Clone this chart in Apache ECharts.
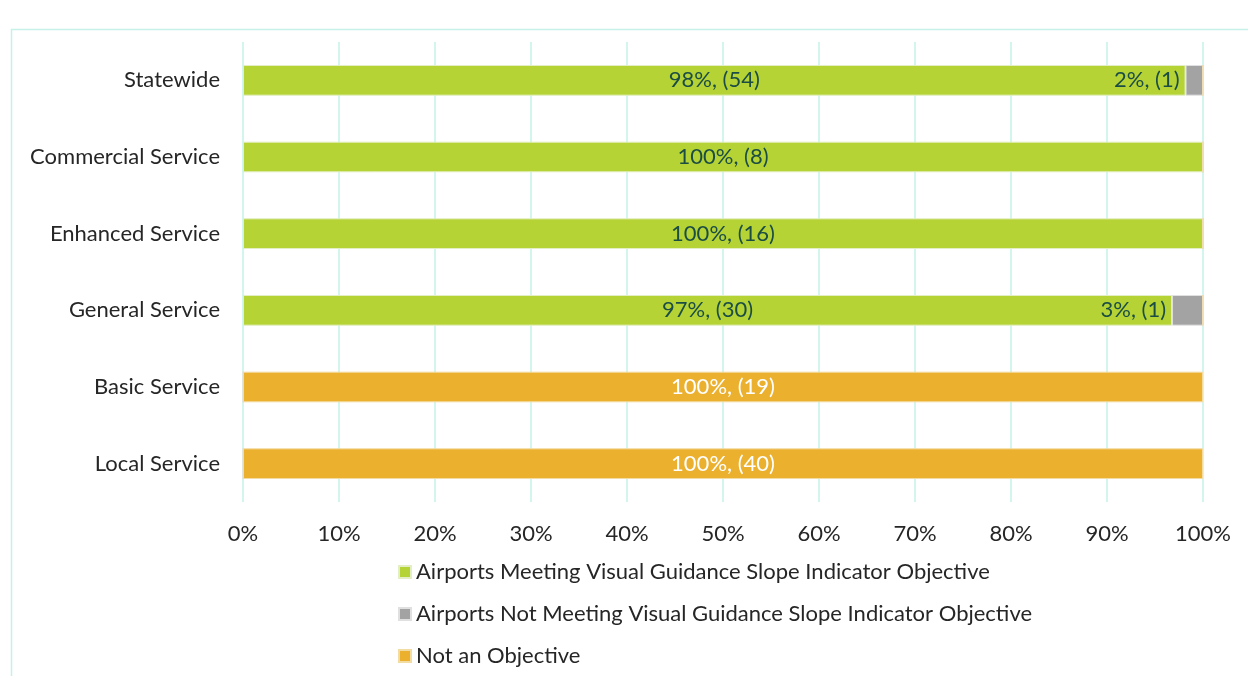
<!DOCTYPE html>
<html>
<head>
<meta charset="utf-8">
<script src="https://cdn.jsdelivr.net/npm/echarts@6/dist/echarts.min.js"></script>
<style>
  html, body { margin: 0; padding: 0; background: #fff; }
  #chart { width: 1248px; height: 676px; }
</style>
</head>
<body>
<div id="chart"></div>
<script>
  // airport roles, top to bottom
  var categories = ['Statewide', 'Commercial Service', 'Enhanced Service', 'General Service', 'Basic Service', 'Local Service'];
  // airport counts per role
  var meeting = [54, 8, 16, 30, 0, 0];
  var notMeeting = [1, 0, 0, 1, 0, 0];
  var notObjective = [0, 0, 0, 0, 19, 40];
  var xTicks = ['0%', '10%', '20%', '30%', '40%', '50%', '60%', '70%', '80%', '90%', '100%'];

  var seriesNames = [
    'Airports Meeting Visual Guidance Slope Indicator Objective',
    'Airports Not Meeting Visual Guidance Slope Indicator Objective',
    'Not an Objective'
  ];

  var totals = categories.map(function (c, i) {
    return meeting[i] + notMeeting[i] + notObjective[i];
  });
  function share(arr) {
    return arr.map(function (v, i) { return v / totals[i] * 100; });
  }
  function labelFor(counts) {
    return function (p) {
      var n = counts[p.dataIndex];
      if (!n) return '';
      return Math.round(p.value) + '%, (' + n + ')';
    };
  }

  var font = 'Lato, "Open Sans", sans-serif';
  var chart = echarts.init(document.getElementById('chart'));
  chart.setOption({
    animation: false,
    textStyle: { fontFamily: font },
    graphic: [{
      type: 'rect',
      shape: { x: 11.5, y: 29.5, width: 1400, height: 800 },
      style: { fill: 'none', stroke: '#c6f1e9', lineWidth: 1.5 },
      silent: true
    }],
    grid: { left: 243, right: 45, top: 42, bottom: 174 },
    legend: {
      orient: 'vertical',
      left: 393,
      top: 556,
      itemWidth: 12,
      itemHeight: 12,
      itemGap: 20,
      icon: 'rect',
      textStyle: { fontFamily: font, fontSize: 22, color: '#262626' },
      data: seriesNames
    },
    xAxis: {
      type: 'value',
      min: 0,
      max: 100,
      interval: 10,
      axisLine: { show: false },
      axisTick: { show: false },
      splitLine: { lineStyle: { color: '#c6f1e9', width: 1.5 } },
      axisLabel: {
        margin: 21,
        fontSize: 22,
        color: '#262626',
        fontFamily: font,
        formatter: function (v) { return xTicks[Math.round(v / 10)]; }
      }
    },
    yAxis: {
      type: 'category',
      inverse: true,
      data: categories,
      axisLine: { show: false },
      axisTick: { show: false },
      axisLabel: { margin: 23, fontSize: 22, color: '#262626', fontFamily: font }
    },
    series: [
      {
        name: seriesNames[0],
        type: 'bar',
        stack: 'all',
        barWidth: '40%',
        data: share(meeting),
        itemStyle: { color: '#b5d334', borderColor: '#e4eec4', borderWidth: 1 },
        label: {
          show: true, position: 'inside', fontSize: 22, color: '#1b4d45', fontFamily: font,
          formatter: labelFor(meeting)
        }
      },
      {
        name: seriesNames[1],
        type: 'bar',
        stack: 'all',
        data: share(notMeeting),
        itemStyle: { color: '#a3a3a3', borderColor: '#e0e0e0', borderWidth: 1 },
        label: {
          show: true, position: 'left', distance: 6, fontSize: 22, color: '#1b4d45', fontFamily: font,
          formatter: labelFor(notMeeting)
        }
      },
      {
        name: seriesNames[2],
        type: 'bar',
        stack: 'all',
        data: share(notObjective),
        itemStyle: { color: '#ecb02f', borderColor: '#f3dca4', borderWidth: 1 },
        label: {
          show: true, position: 'inside', fontSize: 22, color: '#ffffff', fontFamily: font,
          formatter: labelFor(notObjective)
        }
      }
    ]
  });
</script>
</body>
</html>
